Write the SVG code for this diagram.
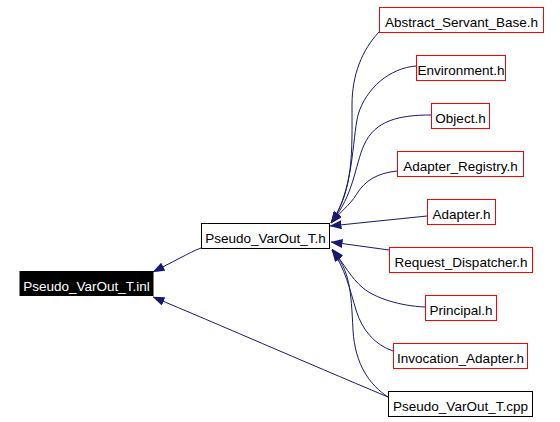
<svg xmlns="http://www.w3.org/2000/svg" width="560" height="422" viewBox="0 0 560 422">
<style>
.n rect{fill:#fff;stroke:#ff0000;stroke-width:1}
.n.k rect{stroke:#000}
.n.f rect{fill:#000;stroke:#000}
.n text{font-family:"Liberation Sans",Arial,sans-serif;font-size:13.5px;fill:#000;text-anchor:middle}
.n.f text{fill:#fff}
#edges path{fill:none;stroke:#191970;stroke-width:1;marker-end:url(#ah)}
</style>
<defs>
<marker id="ah" viewBox="0 0 12 9" refX="11.5" refY="4.5" markerWidth="12" markerHeight="9" markerUnits="userSpaceOnUse" orient="auto">
<path d="M0,0 L12,4.5 L0,9 z" fill="#191970"/>
</marker>
</defs>
<rect width="560" height="422" fill="#fff"/>
<g id="edges">
<path d="M379,32 C362,50 352,75 352,105 C352,150 354,190 331,223"/>
<path d="M416,66 C390,68 366,88 358,115 C352,140 354,190 331,223"/>
<path d="M431,115 C400,115 375,120 364,145 C355,165 354,195 331,223"/>
<path d="M397,171 C378,173 365,180 356,195 C350,205 340,212 331,223"/>
<path d="M427,216 L330,226"/>
<path d="M389,250 L331,242"/>
<path d="M425,307 C400,306 375,298 363,288 C350,277 345,265 332,249"/>
<path d="M393,351 C375,345 362,330 356,310 C350,290 345,268 332,250"/>
<path d="M388,397 C370,385 355,365 353,330 C351,290 350,270 332,250"/>
<path d="M201,248 C193,251 188,254 180,258 L153,272"/>
<path d="M388,397 C300,360 220,325 153,297"/>
</g>
<g id="inl" class="n f"><rect x="20" y="271.5" width="133" height="24"/><text x="86.5" y="290.5">Pseudo_VarOut_T.inl</text></g>
<g id="h" class="n k"><rect x="201.5" y="223.5" width="128" height="25"/><text x="265.5" y="242.5">Pseudo_VarOut_T.h</text></g>
<g id="abstract" class="n"><rect x="379.5" y="7.5" width="164" height="25"/><text x="461.5" y="26.5">Abstract_Servant_Base.h</text></g>
<g id="environment" class="n"><rect x="416.5" y="55.5" width="89" height="25"/><text x="461" y="74.5">Environment.h</text></g>
<g id="object" class="n"><rect x="431.5" y="103.5" width="58" height="25"/><text x="460.5" y="122.5">Object.h</text></g>
<g id="registry" class="n"><rect x="397.5" y="151.5" width="126" height="25"/><text x="460.5" y="170.5">Adapter_Registry.h</text></g>
<g id="adapter" class="n"><rect x="427.5" y="199.5" width="68" height="25"/><text x="461.5" y="218.5">Adapter.h</text></g>
<g id="dispatcher" class="n"><rect x="389.5" y="247.5" width="143" height="25"/><text x="461" y="266.5">Request_Dispatcher.h</text></g>
<g id="principal" class="n"><rect x="425.5" y="295.5" width="71" height="25"/><text x="461" y="314.5">Principal.h</text></g>
<g id="invocation" class="n"><rect x="393.5" y="343.5" width="134" height="25"/><text x="460.5" y="362.5">Invocation_Adapter.h</text></g>
<g id="cpp" class="n k"><rect x="388.5" y="391.5" width="144" height="25"/><text x="460.5" y="410.5">Pseudo_VarOut_T.cpp</text></g>
</svg>
